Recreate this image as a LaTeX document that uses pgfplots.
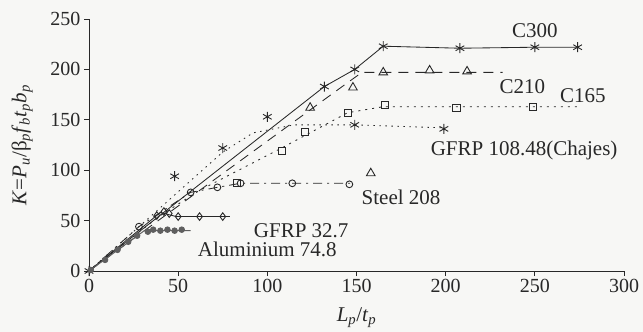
\documentclass[border=0pt]{standalone}
\usepackage{fontspec}
\setmainfont{Liberation Serif}
\usepackage{pgfplots}
\pgfplotsset{compat=1.18}

\definecolor{ink}{RGB}{40,40,40}
\definecolor{paper}{RGB}{247,247,245}
\definecolor{blob}{RGB}{95,95,95}

\newcommand{\lab}{\fontsize{21bp}{24bp}\selectfont}
\newcommand{\tlab}{\fontsize{20bp}{23bp}\selectfont}

\begin{document}
\begin{tikzpicture}
\fill[paper] (0,0) rectangle (643bp,332bp);
\path[use as bounding box] (0,0) rectangle (643bp,332bp);
\begin{axis}[
  at={(89bp,61bp)}, anchor=south west,
  scale only axis, width=535bp, height=252bp,
  xmin=0, xmax=300, ymin=0, ymax=250,
  axis lines=left,
  axis line style={ink, line width=0.9pt, -},
  xtick={0,50,...,300}, ytick={0,50,...,250},
  tick align=outside, major tick length=5bp,
  tick style={ink, line width=0.8pt},
  ticklabel style={ink, font=\tlab},
  /pgf/number format/assume math mode=true,
  clip=false,
  xlabel={\textit{L}\textsubscript{\textit{p}}/\textit{t}\textsubscript{\textit{p}}},
  xlabel style={ink, font=\lab, at={(axis description cs:0.5,-0.185)}, anchor=center},
  ylabel={\textit{K}=\textit{P}\textsubscript{\textit{u}}/β\textsubscript{\textit{p}}\textit{f}\textsubscript{\textit{b}}\textit{t}\textsubscript{\textit{p}}\textit{b}\textsubscript{\textit{p}}},
  ylabel style={ink, font=\lab, at={(axis description cs:-0.125,0.5)}, anchor=center},
  every axis plot/.append style={ink, line width=0.85pt},
]

% C300: bilinear curve with test points
\addplot[solid, mark=asterisk, mark size=5bp, mark options={solid, line width=0.9pt}]
  coordinates {(0,0) (132,183) (149,200) (165,223) (208,221) (250,222) (274,222)};

% GFRP 108.48 (Chajes)
\addplot[dash pattern=on 1.5bp off 4.5bp, mark=none]
  coordinates {(0,0) (30,47) (75,118) (92,137) (115,145) (149,145) (199,142)};
\addplot[only marks, mark=asterisk, mark size=5bp, mark options={solid, line width=0.9pt}]
  coordinates {(48,94) (75,122) (100,153) (149,145) (199,141)};

% C210
\addplot[dash pattern=on 10bp off 7bp, mark=none]
  coordinates {(0,0) (142,183) (153,197) (232,197)};
\addplot[only marks, mark=triangle, mark size=5bp, mark options={solid, line width=0.9pt}]
  coordinates {(124,162) (148,182) (165,197) (191,199) (212,198) (158,97)};

% C165
\addplot[dash pattern=on 2bp off 5bp, mark=none]
  coordinates {(0,0) (40,55) (62,80) (108,122) (145,157) (165,163) (275,163)};
\addplot[only marks, mark=square, mark size=3.6bp, mark options={solid, line width=0.9pt}]
  coordinates {(83,87) (108,119) (121,138) (145,157) (166,165) (206,162) (249,163)};

% Steel 208
\addplot[dash pattern=on 9bp off 5bp on 2bp off 5bp, mark=none]
  coordinates {(0,0) (28,44) (57,78) (72,83) (85,87) (148,87)};
\addplot[only marks, mark=o, mark size=3.4bp, mark options={solid, line width=0.9pt, fill=paper}]
  coordinates {(28,44) (57,78) (72,83) (85,87) (114,87) (146,86)};

% GFRP 32.7
\addplot[solid, mark=none]
  coordinates {(0,0) (40,58) (49,54) (79,54)};
\addplot[only marks, mark=diamond, mark size=3.8bp, mark options={solid, line width=0.9pt, fill=paper}]
  coordinates {(38,55) (42,59) (45,57) (50,54) (62,54) (75,54)};

% Aluminium 74.8
\addplot[solid, color=blob, line width=1pt, mark=none]
  coordinates {(0,0) (31,40) (57,40)};
\addplot[only marks, mark=*, mark size=2.8bp, color=blob, mark options={fill=blob, draw=blob}]
  coordinates {(1,1) (9,11) (16,21) (22,29) (27,35)
               (33,39) (36,41) (40,40) (44,41) (48,40) (52,41)};

% curve labels
\node[ink, font=\lab] at (axis cs:250,238) {C300};
\node[ink, font=\lab] at (axis cs:243,183) {C210};
\node[ink, font=\lab] at (axis cs:277,174) {C165};
\node[ink, font=\lab] at (axis cs:244,120) {GFRP 108.48(Chajes)};
\node[ink, font=\lab] at (axis cs:175,73) {Steel 208};
\node[ink, font=\lab] at (axis cs:119,40) {GFRP 32.7};
\node[ink, font=\lab] at (axis cs:100,21) {Aluminium 74.8};
\end{axis}
\end{tikzpicture}
\end{document}
